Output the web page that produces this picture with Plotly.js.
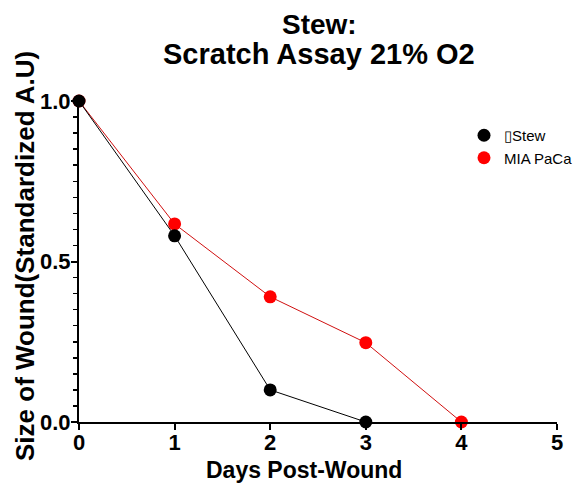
<!DOCTYPE html>
<html><head><meta charset="utf-8">
<script src="https://cdn.plot.ly/plotly-3.0.1.min.js"></script>
<style>html,body{margin:0;padding:0;background:#fff}#c{width:579px;height:489px}</style>
</head><body><div id="c"></div>
<script>
const stewDays = [0, 1, 2, 3];
const stewValues = [1.0, 0.58, 0.10, 0.0];
const miaDays = [0, 1, 2, 3, 4];
const miaValues = [1.0, 0.617, 0.39, 0.247, 0.0];
const seriesNames = ["\u25AFStew", "MIA PaCa"];
const xTicks = [0, 1, 2, 3, 4, 5];
const yTicks = [0, 0.5, 1.0];

const F = "Arial, 'Liberation Sans', sans-serif";
const traces = [
  {x: miaDays, y: miaValues, name: seriesNames[1], mode: "lines+markers",
   line: {color: "#d01010", width: 1}, marker: {color: "#ff0000", size: 13},
   cliponaxis: false, showlegend: false},
  {x: stewDays, y: stewValues, name: seriesNames[0], mode: "lines+markers",
   line: {color: "#000", width: 1}, marker: {color: "#000", size: 13},
   cliponaxis: false, showlegend: false},
  {x: [null], y: [null], name: seriesNames[0], mode: "markers",
   marker: {color: "#000", size: 13}},
  {x: [null], y: [null], name: seriesNames[1], mode: "markers",
   marker: {color: "#ff0000", size: 13}}
];
const layout = {
  width: 579, height: 489,
  margin: {l: 79, r: 22, t: 101, b: 67, autoexpand: false},
  paper_bgcolor: "#fff", plot_bgcolor: "#fff",
  font: {family: F, color: "#000"},
  xaxis: {range: [0, 5], tickvals: xTicks, ticktext: xTicks.map(v => "<b>" + v + "</b>"),
          showgrid: false, zeroline: false, showline: true, linecolor: "#000", linewidth: 2,
          ticks: "outside", ticklen: 6, tickwidth: 2, tickcolor: "#000",
          ticklabelstandoff: -6,
          tickfont: {size: 22, family: F}},
  yaxis: {range: [0, 1], tickvals: yTicks, ticktext: yTicks.map(v => "<b>" + v.toFixed(1) + "</b>"),
          showgrid: false, zeroline: false, showline: true, linecolor: "#000", linewidth: 2,
          ticks: "outside", ticklen: 6, tickwidth: 2, tickcolor: "#000",
          ticklabelstandoff: -4,
          tickfont: {size: 22, family: F},
          minor: {dtick: 0.05, tick0: 0, ticks: "outside", ticklen: 4, tickwidth: 1.5, tickcolor: "#000", showgrid: false}},
  annotations: [
    {text: "<b>Stew:</b>", xref: "paper", yref: "paper", x: (319 - 79) / 478, y: (422 - 24) / 321,
     xanchor: "center", yanchor: "middle", showarrow: false, font: {size: 28, family: F}},
    {text: "<b>Scratch Assay 21% O2</b>", xref: "paper", yref: "paper", x: (319 - 79) / 478, y: (422 - 54) / 321,
     xanchor: "center", yanchor: "middle", showarrow: false, font: {size: 29, family: F}},
    {text: "<b>Days Post-Wound</b>", xref: "paper", yref: "paper", x: (304 - 79) / 478, y: (422 - 470) / 321,
     xanchor: "center", yanchor: "middle", showarrow: false, font: {size: 23, family: F}},
    {text: "<b>Size of Wound(Standardized A.U)</b>", xref: "paper", yref: "paper", textangle: -90,
     x: (25 - 79) / 478, y: (422 - 256) / 321,
     xanchor: "center", yanchor: "middle", showarrow: false, font: {size: 26, family: F}}
  ],
  legend: {xref: "container", yref: "container", x: 464 / 579, y: 1 - 119 / 489, xanchor: "left", yanchor: "top",
           bgcolor: "rgba(0,0,0,0)", font: {size: 15, family: F}, itemwidth: 30, tracegroupgap: 0},
  showlegend: true
};
Plotly.newPlot("c", traces, layout, {displayModeBar: false, staticPlot: true});
</script></body></html>
